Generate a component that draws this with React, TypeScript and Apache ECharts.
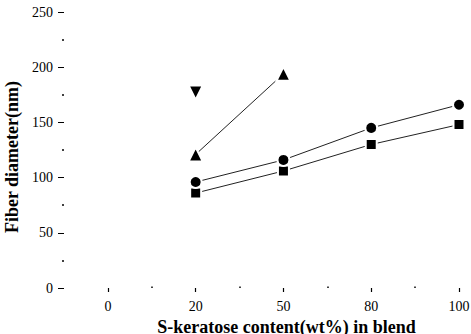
import React, { useEffect, useRef } from "react";
import * as echarts from "echarts";

const contentLevels = ["0", "20", "50", "80", "100"];
const yTicks = [0, 50, 100, 150, 200, 250];

const squareLevels = ["20", "50", "80", "100"];
const squareValues = [86, 106, 130, 148];
const circleLevels = ["20", "50", "80", "100"];
const circleValues = [96, 116, 145, 166];
const triUpLevels = ["20", "50"];
const triUpValues = [121, 194];
const triDownLevels = ["20"];
const triDownValues = [177];

// axis categories: half-step slots between the content levels
const axisCats: string[] = [];
contentLevels.forEach((c, i) => {
  axisCats.push("h" + i);
  axisCats.push(c);
});
const idx = (lvl: string) => axisCats.indexOf(lvl);
const pairs = (lv: string[], vals: number[]) => lv.map((l, i) => [idx(l), vals[i]]);

const FONT = "'Liberation Serif', 'DejaVu Serif', serif";
const GRID_TOP = 12;
const GRID_BOTTOM = 46;
const HEIGHT = 334;

export default function App() {
  const ref = useRef<HTMLDivElement>(null);
  useEffect(() => {
    if (!ref.current) return;
    const chart = echarts.init(ref.current, undefined, { renderer: "svg" });
    const markerStyle = { color: "#000", borderColor: "#fff", borderWidth: 2 };
    const lineStyle = { color: "#222", width: 1 };
    const base = {
      type: "line" as const,
      lineStyle,
      itemStyle: markerStyle,
      emphasis: { disabled: true },
    };
    const labelFmt = (v: string) => (v.charAt(0) === "h" ? "" : v);
    const hiddenLine = { show: true, lineStyle: { color: "#fff", opacity: 0, width: 0 } };
    const offsetBottom = -(HEIGHT - GRID_TOP - GRID_BOTTOM);
    chart.setOption({
      animation: false,
      grid: { left: 64, right: 12, top: GRID_TOP, bottom: GRID_BOTTOM, containLabel: false, outerBoundsMode: "none" },
      xAxis: [
        {
          type: "category",
          data: axisCats,
          boundaryGap: false,
          position: "bottom",
          axisLine: hiddenLine,
          axisTick: { show: false },
          axisLabel: {
            interval: 0,
            margin: 11,
            color: "#000",
            fontFamily: FONT,
            fontSize: 14,
            formatter: labelFmt,
          },
          splitLine: { show: false },
          name: "S-keratose content(wt%) in blend",
          nameLocation: "middle",
          nameGap: 12,
          nameTextStyle: {
            color: "#000",
            fontFamily: FONT,
            fontWeight: "bold",
            fontSize: 18,
            padding: [0, 0, 0, 50],
          },
        },
        {
          // small dots at the half-step slots
          type: "category",
          data: axisCats,
          boundaryGap: false,
          position: "top",
          offset: offsetBottom,
          axisLine: hiddenLine,
          axisTick: {
            show: true,
            length: 1.5,
            interval: (i: number) => i % 2 === 0 && i > 0,
            lineStyle: { color: "#000", width: 1.5 },
          },
          axisLabel: { show: false },
          splitLine: { show: false },
        },
        {
          // major ticks at the content levels (reversed axis, every other slot from the right end)
          type: "category",
          data: axisCats,
          inverse: true,
          boundaryGap: false,
          position: "top",
          offset: offsetBottom,
          axisLine: hiddenLine,
          axisTick: {
            show: true,
            inside: true,
            length: 4,
            interval: 1,
            lineStyle: { color: "#000", width: 1.2 },
          },
          axisLabel: { show: false },
          splitLine: { show: false },
        },
      ],
      yAxis: {
        type: "value",
        min: yTicks[0],
        max: yTicks[yTicks.length - 1],
        interval: 50,
        axisLine: { show: false },
        axisTick: { show: true, length: 6, lineStyle: { color: "#000", width: 1 } },
        minorTick: { show: true, splitNumber: 2, length: 2, lineStyle: { color: "#000", width: 1.5 } },
        splitLine: { show: false },
        axisLabel: { color: "#000", fontFamily: FONT, fontSize: 14, margin: 11 },
        name: "Fiber diameter(nm)",
        nameLocation: "middle",
        nameGap: 42,
        nameTextStyle: {
          color: "#000",
          fontFamily: FONT,
          fontWeight: "bold",
          fontSize: 18,
          padding: [0, 14, 0, 0],
        },
      },
      series: [
        { ...base, name: "square", symbol: "rect", symbolSize: 11, data: pairs(squareLevels, squareValues) },
        { ...base, name: "circle", symbol: "circle", symbolSize: 12, data: pairs(circleLevels, circleValues) },
        { ...base, name: "triUp", symbol: "triangle", symbolSize: 14, data: pairs(triUpLevels, triUpValues) },
        {
          ...base,
          name: "triDown",
          symbol: "triangle",
          symbolRotate: 180,
          symbolSize: 14,
          data: pairs(triDownLevels, triDownValues),
        },
      ],
    });
    return () => chart.dispose();
  }, []);
  return (
    <div
      ref={ref}
      style={{ position: "absolute", left: 0, top: 0, width: 471, height: HEIGHT, background: "#fff" }}
    />
  );
}
